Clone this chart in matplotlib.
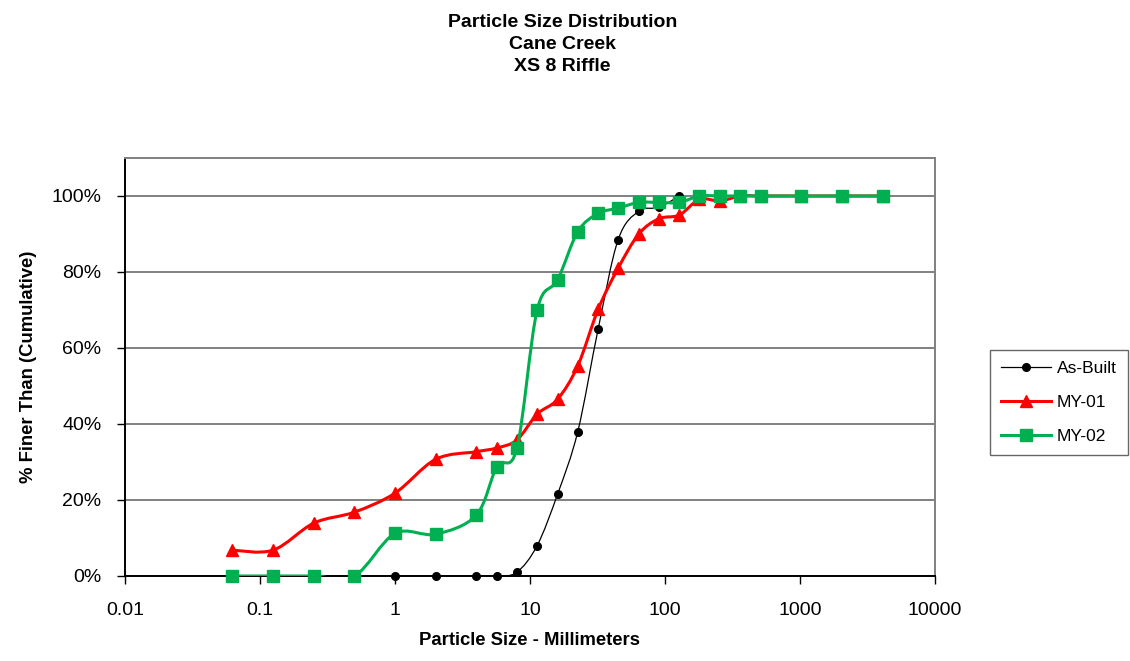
"""Particle size distribution, Cane Creek XS 8 Riffle"""

import numpy as np
import matplotlib.pyplot as plt
from matplotlib.path import Path
from matplotlib.patches import PathPatch
from matplotlib.lines import Line2D
from matplotlib.ticker import FixedLocator, PercentFormatter, NullLocator

plt.rcParams['font.family'] = ['Liberation Sans', 'DejaVu Sans']

# sieve sizes (mm) and cumulative percent finer
asbuilt_size = [1, 2, 4, 5.7, 8, 11.3, 16, 22.6, 32, 45, 64, 90, 128]
asbuilt_pct = [0, 0, 0, 0, 1, 8, 21.5, 38, 65, 88.5, 96, 97, 100]

my01_size = [0.062, 0.125, 0.25, 0.5, 1, 2, 4, 5.7, 8, 11.3, 16, 22.6, 32, 45,
             64, 90, 128, 180, 256, 362, 512, 1024, 2048, 4096]
my01_pct = [6.8, 6.8, 13.9, 16.8, 21.8, 30.7, 32.7, 33.7, 35.8, 42.6, 46.5, 55.3,
            70.2, 81, 90, 94, 95, 99.1, 98.7, 100, 100, 100, 100, 100]

my02_size = [0.062, 0.125, 0.25, 0.5, 1, 2, 4, 5.7, 8, 11.3, 16, 22.6, 32, 45,
             64, 90, 128, 180, 256, 362, 512, 1024, 2048, 4096]
my02_pct = [0, 0, 0, 0, 11.2, 11, 16, 28.8, 33.6, 70, 77.9, 90.6, 95.4, 96.8,
            98.3, 98.3, 98.3, 100, 100, 100, 100, 100, 100, 100]

x_ticks = [0.01, 0.1, 1, 10, 100, 1000, 10000]
x_labels = ['0.01', '0.1', '1', '10', '100', '1000', '10000']


def smooth_path(sizes, pcts):
    """Bezier path through the points, like a spreadsheet smoothed line"""
    pts = np.column_stack([np.log10(sizes), np.array(pcts) / 100.0])
    n = len(pts)
    verts = [pts[0]]
    codes = [Path.MOVETO]
    for i in range(n - 1):
        p0 = pts[max(i - 1, 0)]
        p1 = pts[i]
        p2 = pts[i + 1]
        p3 = pts[min(i + 2, n - 1)]
        c1 = p1 + (p2 - p0) / 6.0
        c2 = p2 - (p3 - p1) / 6.0
        verts += [c1, c2, p2]
        codes += [Path.CURVE4] * 3
    verts = np.array(verts)
    verts[:, 0] = 10 ** verts[:, 0]
    return Path(verts, codes)


def main():
    """Plot the graph"""
    fig = plt.figure(figsize=(11.3, 6.61), dpi=100)
    axes = fig.add_axes([0.1106, 0.1286, 0.7168, 0.6324])

    series = [
        (asbuilt_size, asbuilt_pct, 'black', 'o', 0.9, 5.5, 'As-Built', 3),
        (my01_size, my01_pct, '#ff0000', '^', 2.2, 9, 'MY-01', 4),
        (my02_size, my02_pct, '#00b050', 's', 2.2, 8.5, 'MY-02', 5),
    ]
    handles = []
    for size, pct, color, marker, lw, ms, label, z in series:
        y = np.array(pct) / 100.0
        patch = PathPatch(smooth_path(size, pct), fill=False, edgecolor=color,
                          linewidth=lw, zorder=z)
        axes.add_patch(patch)
        axes.plot(size, y, linestyle='none', marker=marker, color=color,
                  markersize=ms, zorder=z, clip_on=False)
        handles.append(Line2D([], [], color=color, linewidth=lw, marker=marker,
                              markersize=ms, label=label))

    axes.set_xscale('log')
    axes.set_xlim(0.01, 10000)
    axes.set_ylim(0, 1.1)
    axes.xaxis.set_major_locator(FixedLocator(x_ticks))
    axes.xaxis.set_minor_locator(NullLocator())
    axes.set_xticklabels(x_labels)
    axes.yaxis.set_major_locator(FixedLocator([0, 0.2, 0.4, 0.6, 0.8, 1.0]))
    axes.yaxis.set_major_formatter(PercentFormatter(1.0, decimals=0))
    axes.tick_params(labelsize=14, direction='out', length=6, width=1,
                     colors='black')
    axes.tick_params(axis='x', pad=13)
    axes.tick_params(axis='y', pad=11)
    axes.grid(True, axis='y', color='#808080', linewidth=1.4)
    axes.set_axisbelow(True)
    for side in ['top', 'right']:
        axes.spines[side].set_color('#808080')
        axes.spines[side].set_linewidth(1.4)
    for side in ['left', 'bottom']:
        axes.spines[side].set_color('black')
        axes.spines[side].set_linewidth(1.4)

    axes.set_xlabel('Particle Size - Millimeters', fontsize=13.3,
                    fontweight='bold', labelpad=9)
    axes.set_ylabel('% Finer Than (Cumulative)', fontsize=13.3,
                    fontweight='bold', labelpad=10)
    fig.text(0.498, 0.979, 'Particle Size Distribution\nCane Creek\nXS 8 Riffle',
             ha='center', va='top', fontsize=14, fontweight='bold',
             linespacing=1.4)

    leg = fig.legend(handles=handles, loc='center left',
                     bbox_to_anchor=(0.876, 0.391), borderaxespad=0,
                     fontsize=12.5, handlelength=2.9, handletextpad=0.35,
                     frameon=True, fancybox=False, edgecolor='#404040',
                     borderpad=0.62, labelspacing=1.1)
    leg.get_frame().set_linewidth(1.0)

    fig.savefig('out.png', dpi=100)


main()
